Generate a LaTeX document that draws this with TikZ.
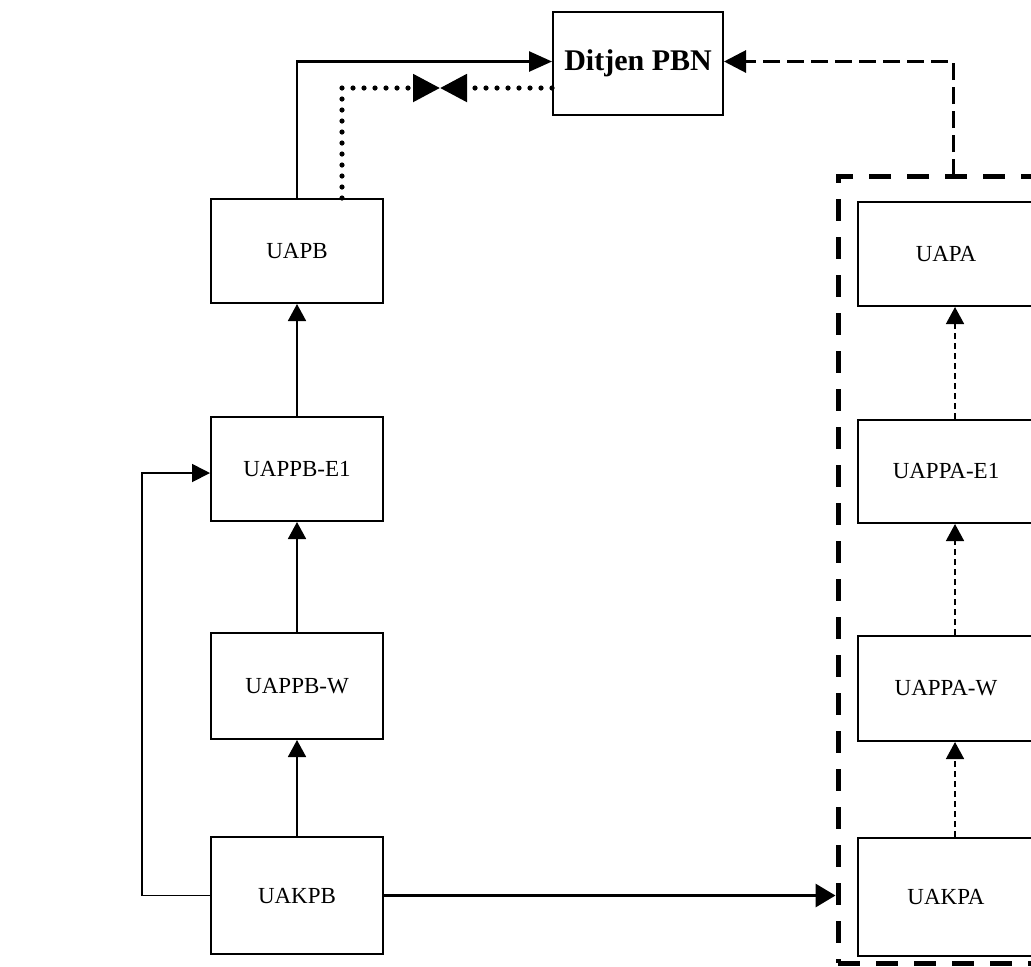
\documentclass[tikz,border=0pt]{standalone}
\usepackage{fontspec}
\setmainfont{Liberation Serif}
\usetikzlibrary{arrows.meta}
\begin{document}
\begin{tikzpicture}[x=0.5pt,y=-0.5pt,
  box/.style={draw, line width=1pt, minimum width=86pt, inner sep=0pt,
    font=\fontsize{11.5}{14}\selectfont},
  rbox/.style={box, minimum width=88pt},
  group/.style={draw, line width=2.5pt, dash pattern=on 11pt off 8pt, inner sep=0pt,
    minimum width=111pt, minimum height=393.5pt},
  upflow/.style={line width=0.9pt, -{Triangle[length=8.5pt,width=9pt]}},
  thindash/.style={line width=0.8pt, dash pattern=on 3pt off 2pt, -{Triangle[length=8.5pt,width=9pt]}},
  toparr/.style={line width=1.3pt, -{Triangle[length=11.5pt,width=10pt]}},
  bigarr/.style={line width=1.7pt, -{Triangle[length=10pt,width=11.5pt]}},
  dotconn/.style={line width=2.6pt, line cap=round, dash pattern=on 0pt off 5.5pt,
    -{Triangle[length=13.5pt,width=13.5pt]}},
  dashconn/.style={line width=1.5pt, dash pattern=on 8.5pt off 3.5pt,
    -{Triangle[length=11pt,width=11pt]}},
  loopconn/.style={line width=0.9pt, -{Triangle[length=9pt,width=9pt]}}
]
\useasboundingbox (0,0) rectangle (1031,966);
\fill[white] (0,0) rectangle (1031,966);
\clip (0,0) rectangle (1031,966);

% top node
\node[box, minimum width=85pt, minimum height=51.5pt,
  font=\fontsize{15}{18}\selectfont\bfseries] (ditjen) at (638,63.5) {Ditjen PBN};

% left column
\node[box, minimum height=52pt]   (uapb)  at (297,251)   {UAPB};
\node[box, minimum height=52pt]   (uappbe) at (297,469)  {UAPPB-E1};
\node[box, minimum height=53pt]   (uappbw) at (297,686)  {UAPPB-W};
\node[box, minimum height=58.5pt] (uakpb) at (297,895.5) {UAKPB};

% right group
\node[group] (grpA) at (949,569.5) {};
\node[rbox, minimum height=52pt]   (uapa)   at (946,254)   {UAPA};
\node[rbox, minimum height=51.5pt] (uappae) at (946,471.5) {UAPPA-E1};
\node[rbox, minimum height=52.5pt] (uappaw) at (946,688.5) {UAPPA-W};
\node[rbox, minimum height=59pt]   (uakpa)  at (946,897)   {UAKPA};

% left column flows
\draw[upflow] (uappbe.north) -- (uapb.south);
\draw[upflow] (uappbw.north) -- (uappbe.south);
\draw[upflow] (uakpb.north) -- (uappbw.south);
\draw[loopconn] (uakpb.west) -- ++(-34pt,0) |- ([yshift=-2pt]uappbe.west);

% right column flows
\draw[thindash] ([xshift=4.5pt]uappae.north) -- ([xshift=4.5pt]uapa.south);
\draw[thindash] ([xshift=4.5pt]uappaw.north) -- ([xshift=4.5pt]uappae.south);
\draw[thindash] ([xshift=4.5pt]uakpa.north) -- ([xshift=4.5pt]uappaw.south);

% UAKPB to group
\draw[bigarr] (uakpb.east) -- (uakpb.east -| grpA.west);

% to Ditjen
\draw[toparr] (uapb.north) |- ([yshift=1pt]ditjen.west);
\coordinate (bow) at (440,88);
\draw[dotconn] ([xshift=22.5pt]uapb.north) |- (bow);
\draw[dotconn] (ditjen.west |- bow) -- (bow);
\coordinate (pa) at (953,176);
\draw[dashconn] (pa) |- ([yshift=1pt]ditjen.east);
\end{tikzpicture}
\end{document}
